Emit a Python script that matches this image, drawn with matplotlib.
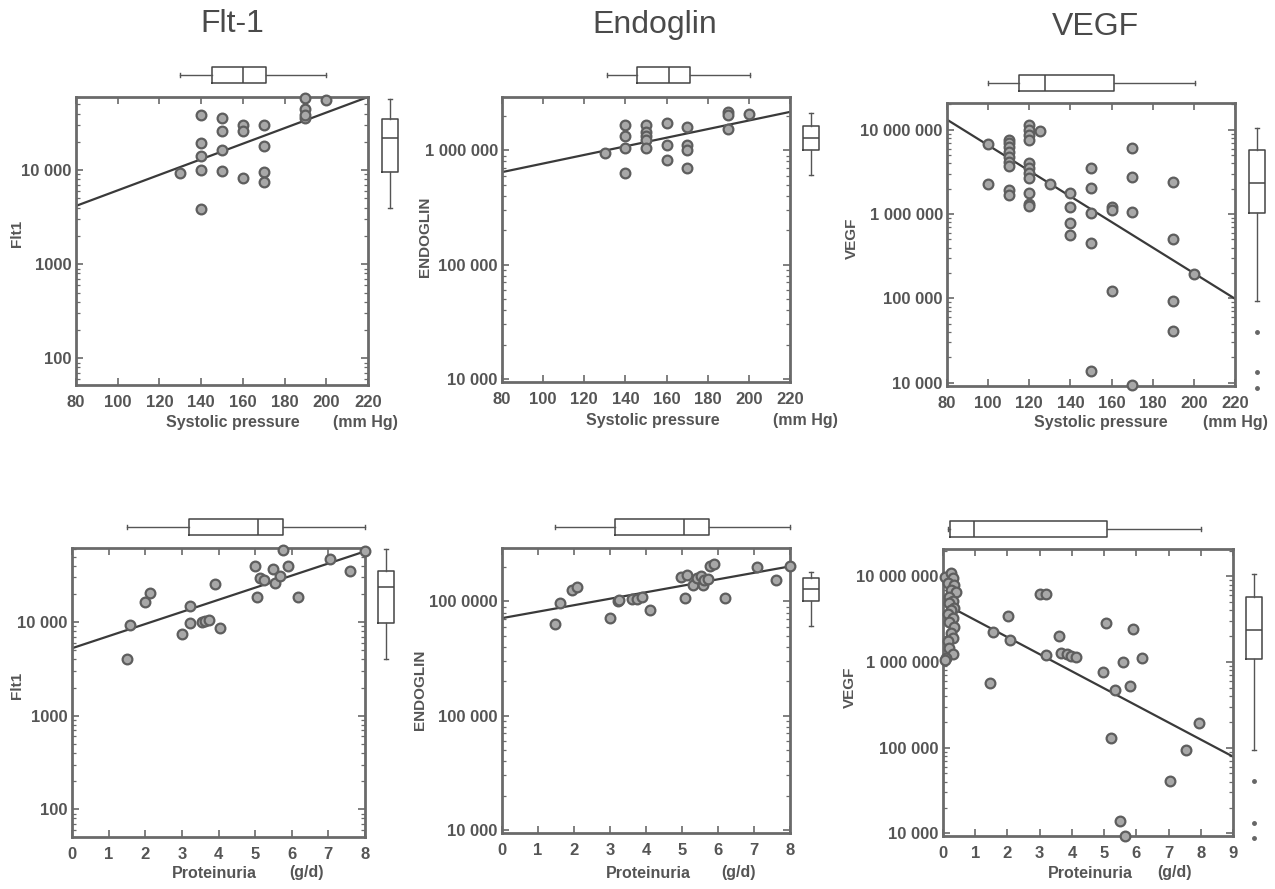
import matplotlib
matplotlib.use("Agg")
import matplotlib.pyplot as plt
from matplotlib.ticker import FixedLocator, FixedFormatter, LogLocator, NullFormatter

plt.rcParams['font.family'] = ['Liberation Sans', 'DejaVu Sans']

W, H = 1275, 889

# ---------------- data ----------------
# Panel 1: Flt-1 vs systolic pressure
p1_x = [140, 150, 140, 150, 160, 160, 170, 140, 150, 170, 130, 140, 150, 160, 170, 170, 140, 190, 200, 190, 190, 190]
p1_y = [38500, 35500, 19500, 26000, 30100, 26000, 30100, 14200, 16300, 18000, 9230, 10000, 9760, 8360, 9600, 7400,
        3910, 58700, 55500, 44500, 35500, 38500]
p1_line_x = [80, 220]
p1_line_y = [4170, 60000]
p1_top_box = dict(whislo=130, q1=145, med=160, q3=171, whishi=200, fliers=[])
p1_right_box = dict(whislo=3950, q1=9520, med=21900, q3=34900, whishi=56900, fliers=[])

# Panel 2: Endoglin vs systolic pressure
p2_x = [140, 140, 140, 140, 150, 150, 150, 150, 150, 160, 160, 160, 170, 170, 170, 170, 130, 190, 190, 190, 200]
p2_y = [1.66e6, 1.33e6, 1.055e6, 6.32e5, 1.66e6, 1.45e6, 1.33e6, 1.22e6, 1.055e6, 1.74e6, 1.106e6, 8.28e5,
        1.6e6, 1.106e6, 1.01e6, 7.05e5, 9.47e5, 2.17e6, 2.03e6, 1.55e6, 2.1e6]
p2_line_x = [80, 220]
p2_line_y = [6.45e5, 2.17e6]
p2_top_box = dict(whislo=131, q1=145.5, med=161, q3=171.5, whishi=200.5, fliers=[])
p2_right_box = dict(whislo=6.12e5, q1=1.01e6, med=1.28e6, q3=1.63e6, whishi=2.14e6, fliers=[])

# Panel 3: VEGF vs systolic pressure
p3_x = [100, 100, 110, 110, 110, 110, 110, 110, 110, 110, 110,
        120, 120, 120, 120, 120, 120, 120, 120, 120, 120, 120,
        125, 130, 140, 140, 140, 140, 150, 150, 150, 150, 150,
        160, 160, 160, 170, 170, 170, 170, 190, 190, 190, 190, 200]
p3_y = [6.76e6, 2.26e6, 7.6e6, 6.94e6, 6.22e6, 5.52e6, 4.82e6, 4.19e6, 3.72e6, 1.93e6, 1.68e6,
        1.15e7, 1.0e7, 8.72e6, 7.6e6, 4.01e6, 3.5e6, 3.05e6, 2.66e6, 1.76e6, 1.31e6, 1.24e6,
        9.56e6, 2.26e6, 1.76e6, 1.22e6, 7.74e5, 5.62e5, 3.5e6, 2.02e6, 1.02e6, 4.48e5, 1.39e4,
        1.22e6, 1.11e6, 1.24e5, 6.05e6, 2.78e6, 1.07e6, 9300, 2.42e6, 5.1e5, 9.2e4, 4.1e4, 1.97e5]
p3_line_x = [80, 220]
p3_line_y = [1.32e7, 9.9e4]
p3_top_box = dict(whislo=100, q1=115, med=127.5, q3=161, whishi=200.5, fliers=[])
p3_right_box = dict(whislo=9.29e4, q1=1.035e6, med=2.36e6, q3=5.78e6, whishi=1.05e7,
                    fliers=[3.97e4, 1.33e4, 8650])

# Panel 4: Flt-1 vs proteinuria
p4_x = [1.5, 1.59, 2.0, 2.14, 3.0, 3.23, 3.23, 3.55, 3.64, 3.73, 3.91, 4.05, 5.0, 5.05, 5.14, 5.23,
        5.5, 5.55, 5.68, 5.77, 5.91, 6.18, 7.05, 7.59, 8.0]
p4_y = [4010, 9360, 16600, 20500, 7500, 9760, 14700, 10150, 10400, 10600, 25700, 8620, 39400, 18500,
        29600, 28400, 37000, 26200, 30800, 59600, 40100, 18500, 47300, 35500, 57000]
p4_line_x = [0, 8]
p4_line_y = [5260, 57100]
p4_top_box = dict(whislo=1.5, q1=3.2, med=5.07, q3=5.75, whishi=8.0, fliers=[])
p4_right_box = dict(whislo=4040, q1=9760, med=23700, q3=35500, whishi=60600, fliers=[])

# Panel 5: Endoglin vs proteinuria
p5_x = [1.48, 1.62, 1.94, 2.08, 2.99, 3.21, 3.24, 3.61, 3.75, 3.88, 4.1, 4.97, 5.13, 5.09, 5.3,
        5.43, 5.52, 5.58, 5.6, 5.73, 5.78, 5.89, 6.2, 7.09, 7.61, 8.0]
p5_y = [6.37e5, 9.68e5, 1.27e6, 1.35e6, 7.15e5, 1.0e6, 1.03e6, 1.05e6, 1.05e6, 1.09e6, 8.46e5, 1.64e6,
        1.71e6, 1.07e6, 1.4e6, 1.6e6, 1.66e6, 1.4e6, 1.55e6, 1.57e6, 2.03e6, 2.14e6, 1.07e6, 2.0e6,
        1.55e6, 2.03e6]
p5_line_x = [0, 8]
p5_line_y = [7.15e5, 2.03e6]
p5_top_box = dict(whislo=1.48, q1=3.14, med=5.06, q3=5.76, whishi=8.0, fliers=[])
p5_right_box = dict(whislo=6.12e5, q1=1.02e6, med=1.29e6, q3=1.62e6, whishi=1.8e6, fliers=[])

# Panel 6: VEGF vs proteinuria
p6_x = [0.05, 0.25, 0.3, 0.15, 0.35, 0.25, 0.4, 0.2, 0.3, 0.2, 0.35, 0.25, 0.15, 0.3, 0.2, 0.35,
        0.25, 0.3, 0.15, 0.2, 0.3, 0.1, 0.05,
        1.55, 2.02, 2.07, 1.47, 3.0, 3.21, 3.19, 3.6, 3.67, 3.85, 3.98, 4.12, 4.97, 5.05, 5.2, 5.33,
        5.48, 5.59, 5.64, 5.79, 5.9, 6.18, 7.04, 7.55, 7.95]
p6_y = [9.8e6, 1.1e7, 9.5e6, 8.4e6, 8.0e6, 7.0e6, 6.5e6, 5.8e6, 5.2e6, 4.9e6, 4.3e6, 4.1e6, 3.6e6,
        3.3e6, 2.9e6, 2.6e6, 2.2e6, 1.9e6, 1.74e6, 1.46e6, 1.25e6, 1.1e6, 1.05e6,
        2.27e6, 3.47e6, 1.82e6, 5.75e5, 6.22e6, 6.22e6, 1.21e6, 2.02e6, 1.27e6, 1.25e6, 1.18e6,
        1.14e6, 7.74e5, 2.85e6, 1.29e5, 4.73e5, 1.4e4, 1.01e6, 9300, 5.27e5, 2.44e6, 1.11e6,
        4.11e4, 9.4e4, 1.93e5]
p6_line_x = [0, 9]
p6_line_y = [4.89e6, 7.86e4]
p6_top_box = dict(whislo=0.16, q1=0.23, med=0.95, q3=5.09, whishi=8.02, fliers=[])
p6_right_box = dict(whislo=9.4e4, q1=1.08e6, med=2.38e6, q3=5.74e6, whishi=1.075e7,
                    fliers=[4.11e4, 1.33e4, 8720])

titles = ["Flt-1", "Endoglin", "VEGF"]
ylabels = ["Flt1", "ENDOGLIN", "VEGF", "Flt1", "ENDOGLIN", "VEGF"]
xlabel_top = "Systolic pressure"
xunit_top = "(mm Hg)"
xlabel_bot = "Proteinuria"
xunit_bot = "(g/d)"

sbp_ticks = [80, 100, 120, 140, 160, 180, 200, 220]
sbp_ticklabels = ["80", "100", "120", "140", "160", "180", "200", "220"]
prot8_ticks = [0, 1, 2, 3, 4, 5, 6, 7, 8]
prot9_ticks = [0, 1, 2, 3, 4, 5, 6, 7, 8, 9]

flt_yticks = [100, 1000, 10000]
flt_ylabels = ["100", "1000", "10 000"]
endo_yticks = [10000, 100000, 1000000]
endo_top_ylabels = ["10 000", "100 000", "1 000 000"]
endo_bot_ylabels = ["10 000", "100 000", "100 0000"]
vegf_yticks = [10000, 100000, 1000000, 10000000]
vegf_ylabels = ["10 000", "100 000", "1 000 000", "10 000 000"]

# ---------------- drawing ----------------
GRAY_SPINE = '#6a6a6a'
fig = plt.figure(figsize=(W / 100, H / 100), dpi=100)


def rect(x0, y0, x1, y1):
    return [x0 / W, 1 - y1 / H, (x1 - x0) / W, (y1 - y0) / H]


def style_main(ax):
    for s in ax.spines.values():
        s.set_color(GRAY_SPINE)
        s.set_linewidth(2)
    ax.tick_params(which='both', direction='in', top=True, right=True, colors=GRAY_SPINE,
                   labelcolor='#555555')
    ax.tick_params(which='major', length=5, width=1.2)
    ax.tick_params(axis='x', which='major', pad=7)
    ax.tick_params(axis='y', which='major', pad=3)
    ax.tick_params(which='minor', length=3, width=0.9)
    for lab in ax.get_xticklabels() + ax.get_yticklabels():
        lab.set_fontsize(12)
        lab.set_fontweight('bold')


def boxprops():
    return dict(boxprops=dict(color='#444444', linewidth=1.1),
                whiskerprops=dict(color='#555555', linewidth=1.0),
                capprops=dict(color='#555555', linewidth=1.0),
                medianprops=dict(color='#444444', linewidth=1.1),
                flierprops=dict(marker='o', markersize=2.5, markerfacecolor='#666666',
                                markeredgecolor='#666666'))


def noclip(art):
    for lst in art.values():
        for a in lst:
            a.set_clip_on(False)


def panel(box, x, y, lx, ly, xlim, ylim, xticks, xticklabels, yticks, yticklabels,
          topbox, rightbox, top_c, right_c):
    x0, y0, x1, y1 = box
    ax = fig.add_axes(rect(x0, y0, x1, y1))
    ax.set_yscale('log')
    ax.plot(lx, ly, color='#3a3a3a', linewidth=1.6, zorder=2)
    ax.plot(x, y, linestyle='none', marker='o', markersize=7, markerfacecolor='#a8a8a8',
            markeredgecolor='#5e5e5e', markeredgewidth=1.6, zorder=3, clip_on=False)
    ax.set_xlim(*xlim)
    ax.set_ylim(*ylim)
    ax.xaxis.set_major_locator(FixedLocator(xticks))
    ax.xaxis.set_major_formatter(FixedFormatter(xticklabels))
    ax.yaxis.set_major_locator(FixedLocator(yticks))
    ax.yaxis.set_major_formatter(FixedFormatter(yticklabels))
    ax.yaxis.set_minor_locator(LogLocator(base=10, subs=range(2, 10)))
    ax.yaxis.set_minor_formatter(NullFormatter())
    style_main(ax)

    # top marginal box
    axt = fig.add_axes(rect(x0, top_c - 15, x1, top_c + 15))
    axt.set_xlim(*xlim)
    axt.set_ylim(0, 1)
    art = axt.bxp([topbox], positions=[0.5], widths=16 / 30, orientation='horizontal',
                  showfliers=True, capwidths=[0.12], **boxprops())
    noclip(art)
    axt.axis('off')

    # right marginal box
    axr = fig.add_axes(rect(right_c - 15, y0, right_c + 15, y1))
    axr.set_yscale('log')
    axr.set_xlim(0, 1)
    axr.set_ylim(*ylim)
    art = axr.bxp([rightbox], positions=[0.5], widths=16 / 30, orientation='vertical',
                  showfliers=True, capwidths=[0.12], **boxprops())
    noclip(art)
    axr.axis('off')
    return ax


panel((76, 97, 368, 385), p1_x, p1_y, p1_line_x, p1_line_y, (80, 220), (52, 60000),
      sbp_ticks, sbp_ticklabels, flt_yticks, flt_ylabels, p1_top_box, p1_right_box, 75, 390)
panel((502, 97, 790, 382), p2_x, p2_y, p2_line_x, p2_line_y, (80, 220), (9400, 2.93e6),
      sbp_ticks, sbp_ticklabels, endo_yticks, endo_top_ylabels, p2_top_box, p2_right_box, 75, 811)
panel((947, 103, 1235, 386), p3_x, p3_y, p3_line_x, p3_line_y, (80, 220), (9130, 2.08e7),
      sbp_ticks, sbp_ticklabels, vegf_yticks, vegf_ylabels, p3_top_box, p3_right_box, 83, 1257)
panel((72, 548, 365, 837), p4_x, p4_y, p4_line_x, p4_line_y, (0, 8), (50.5, 62000),
      prot8_ticks, [str(t) for t in prot8_ticks], flt_yticks, flt_ylabels, p4_top_box, p4_right_box,
      527, 386)
panel((502, 548, 790, 833), p5_x, p5_y, p5_line_x, p5_line_y, (0, 8), (9400, 2.94e6),
      prot8_ticks, [str(t) for t in prot8_ticks], endo_yticks, endo_bot_ylabels, p5_top_box,
      p5_right_box, 527, 811)
panel((943, 549, 1233, 836), p6_x, p6_y, p6_line_x, p6_line_y, (0, 9), (9300, 2.09e7),
      prot9_ticks, [str(t) for t in prot9_ticks], vegf_yticks, vegf_ylabels, p6_top_box,
      p6_right_box, 529, 1254)

# titles
for t, (cx, cy) in zip(titles, [(232, 24), (655, 25), (1095, 27)]):
    fig.text(cx / W, 1 - cy / H, t, ha='center', va='center', fontsize=23, color='#4a4a4a')

# y labels
for t, (cx, cy) in zip(ylabels, [(17, 233), (425, 237), (852, 238), (17, 685), (420, 690), (850, 687)]):
    fig.text(cx / W, 1 - cy / H, t, ha='center', va='center', rotation=90, fontsize=11,
             fontweight='bold', color='#555555')

# x labels
for (t, u), (cx, ux, cy) in zip([(xlabel_top, xunit_top)] * 3 + [(xlabel_bot, xunit_bot)] * 3,
                                 [(233, 365, 422), (653, 805, 420), (1101, 1235, 422),
                                  (214, 306, 873), (648, 738, 873), (1090, 1174, 873)]):
    fig.text(cx / W, 1 - cy / H, t, ha='center', va='center', fontsize=11.5, fontweight='bold',
             color='#555555')
    fig.text(ux / W, 1 - cy / H, u, ha='center', va='center', fontsize=11.5, fontweight='bold',
             color='#555555')

fig.savefig('out.png', dpi=100, facecolor='white')
